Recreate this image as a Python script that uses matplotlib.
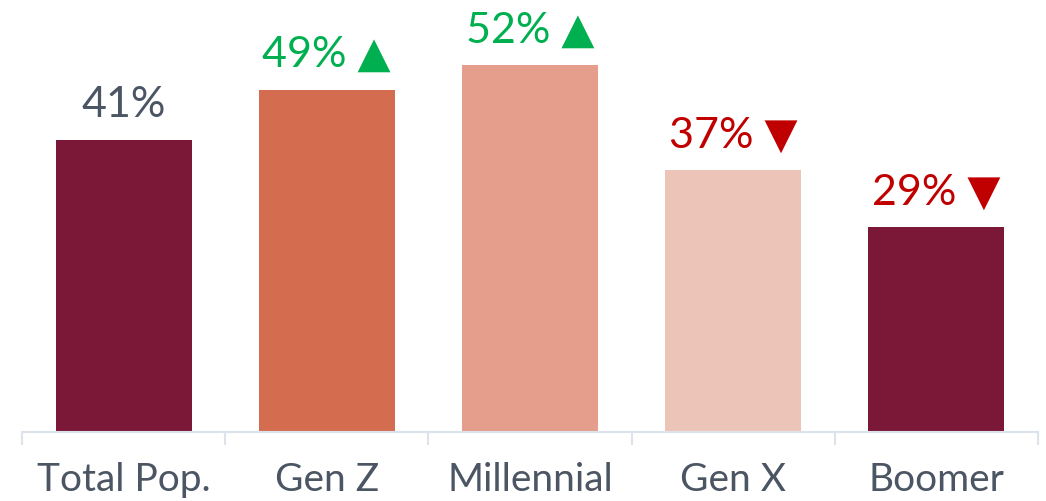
import matplotlib
matplotlib.use("Agg")
import matplotlib.pyplot as plt
import numpy as np

categories = ["Total Pop.", "Gen Z", "Millennial", "Gen X", "Boomer"]
values = [41.4, 48.5, 52.0, 37.1, 29.0]
labels = ["41%", "49% ▲", "52% ▲", "37% ▼", "29% ▼"]
bar_colors = ["#7B1737", "#D46D4F", "#E49E8B", "#EDC5B8", "#7B1737"]
label_colors = ["#4B5563", "#00AF50", "#00AF50", "#C00000", "#C00000"]

fig = plt.figure(figsize=(10.46, 5.02), dpi=100)
ax = fig.add_axes([22/1046, (502-433)/502, (1038-22)/1046, 433/502])
x = np.arange(len(categories))
ax.bar(x, values, width=0.67, color=bar_colors, zorder=2)
ax.set_xlim(-0.5, len(categories)-0.5)
ax.set_ylim(0, 61.35)

for xi, v, lab, c in zip(x, values, labels, label_colors):
    ax.annotate(lab, (xi, v), xytext=(0, 17), textcoords="offset points",
                ha="center", va="baseline", fontsize=31, color=c,
                family=["Lato", "DejaVu Sans"])

for s in ["top", "right", "left"]:
    ax.spines[s].set_visible(False)
ax.spines["bottom"].set_color("#DDE3EA")
ax.spines["bottom"].set_linewidth(1.5)
ax.set_yticks([])
ax.set_xticks(x)
ax.set_xticklabels(categories, fontsize=28, color="#4B5563", family="Lato")
ax.tick_params(axis="x", which="major", length=0, pad=21)
ax.set_xticks(np.arange(-0.5, len(categories)), minor=True)
ax.tick_params(axis="x", which="minor", length=9, width=1.5, color="#DDE3EA")

fig.savefig("out.png", dpi=100)
